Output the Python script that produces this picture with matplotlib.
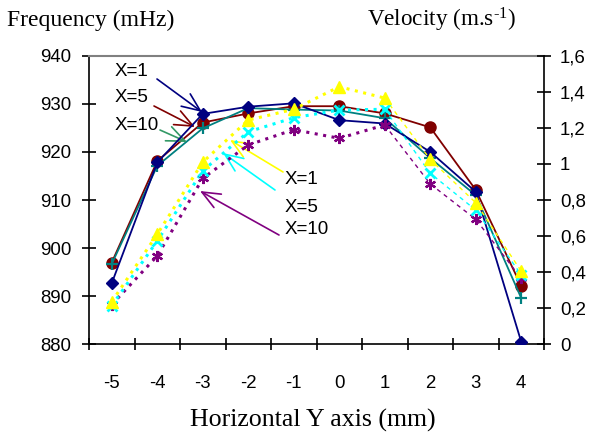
import matplotlib
matplotlib.use("Agg")
import matplotlib.pyplot as plt
import numpy as np

# ---- data ----
categories = ["-5", "-4", "-3", "-2", "-1", "0", "1", "2", "3", "4"]
freq_x1 = [892.7, 917.8, 927.9, 929.4, 930.1, 926.6, 925.9, 920.0, 911.7, 880.5]
freq_x5 = [897.0, 918.1, 926.1, 928.0, 929.5, 929.5, 928.0, 925.1, 912.1, 892.1]
freq_x10 = [896.7, 917.1, 924.9, 929.1, 928.8, 928.6, 927.0, 918.7, 911.0, 889.6]
vel_x1 = [0.236, 0.61, 1.01, 1.243, 1.303, 1.428, 1.365, 1.025, 0.785, 0.405]
vel_x5 = [0.214, 0.573, 0.962, 1.178, 1.256, 1.299, 1.303, 0.948, 0.744, 0.385]
vel_x10 = [0.22, 0.49, 0.92, 1.105, 1.19, 1.142, 1.216, 0.889, 0.693, 0.365]
left_ticks = [880, 890, 900, 910, 920, 930, 940]
right_ticks = [0, 0.2, 0.4, 0.6, 0.8, 1.0, 1.2, 1.4, 1.6]
right_labels = ["0", "0,2", "0,4", "0,6", "0,8", "1", "1,2", "1,4", "1,6"]

plt.rcParams["font.family"] = ["Liberation Sans", "DejaVu Sans"]
plt.rcParams["mathtext.fontset"] = "custom"
plt.rcParams["mathtext.rm"] = "Liberation Serif"
plt.rcParams["mathtext.it"] = "Liberation Serif:italic"

W, H = 592, 436
fig = plt.figure(figsize=(W / 100, H / 100), dpi=100)
ax = fig.add_axes([89 / W, 1 - 344.3 / H, (544 - 89) / W, (344.3 - 55.7) / H])
ax2 = ax.twinx()

x = np.arange(len(categories))

NAVY, DRED, TEAL = "#000080", "#800000", "#008080"
YEL, CYAN, PURP = "#FFFF00", "#00FFFF", "#800080"

ax.plot(x, freq_x5, color=DRED, lw=1.3, marker="o", ms=8, zorder=3)
ax.plot(x, freq_x10, color=TEAL, lw=1.3, marker="+", ms=9, mew=1.6, zorder=3)
ax.plot(x, freq_x1, color=NAVY, lw=1.3, marker="D", ms=6, zorder=4)

split = 6
for vals, col, mk, ms, mew in [(vel_x10, PURP, (6, 2, 0), 8, 1.6),
                               (vel_x5, CYAN, "x", 7, 2.0),
                               (vel_x1, YEL, "^", 9, 1.0)]:
    ax2.plot(x[:split + 1], vals[:split + 1], color=col, lw=2.2,
             linestyle=(0, (1, 1.8)), zorder=3)
    ax2.plot(x[split:], vals[split:], color=col, lw=1.0,
             linestyle=(0, (3, 3)), zorder=3)
    ax2.plot(x, vals, color=col, lw=0, marker=mk, ms=ms, mew=mew, zorder=4)

ax.set_xlim(-0.5, len(categories) - 0.5)
ax.set_ylim(880, 940)
ax2.set_ylim(0, 1.6)
ax.set_yticks(left_ticks)
ax.set_yticklabels([str(t) for t in left_ticks])
ax2.set_yticks(right_ticks)
ax2.set_yticklabels(right_labels)

ax.set_xticks(x)
ax.set_xticklabels(categories)
ax.set_xticks(np.arange(-0.5, len(categories), 1), minor=True)
ax.tick_params(axis="x", which="major", length=0, pad=22, labelsize=13.4)
ax.tick_params(axis="x", which="minor", direction="inout", length=9, width=1.2)
ax.tick_params(axis="y", direction="inout", length=10, width=1.2, pad=7.5, labelsize=13.4)
ax2.tick_params(axis="y", direction="inout", length=10, width=1.2, pad=6.5, labelsize=13.4)

for sp in ["left", "bottom"]:
    ax.spines[sp].set_linewidth(1.2)
    ax.spines[sp].set_color("black")
ax.spines["top"].set_color("#808080")
ax.spines["top"].set_linewidth(1.5)
ax.spines["right"].set_visible(False)
ax2.spines["right"].set_linewidth(1.2)
for sp in ["left", "bottom", "top"]:
    ax2.spines[sp].set_visible(False)

# ---- titles ----
fig.text(7 / W, 1 - 20 / H, "Frequency (mHz)", family="Liberation Serif",
         fontsize=17, va="center", ha="left")
fig.text(367 / W, 1 - 20 / H, r"Velocity (m.s$^{\mathregular{\text{-}1}}$)",
         family="Liberation Serif", fontsize=16.7, va="center", ha="left")
fig.text(313 / W, 1 - 420 / H, "Horizontal Y axis (mm)", family="Liberation Serif",
         fontsize=18.6, va="center", ha="center")

# ---- annotations (figure pixel coords, y from top) ----
def fp(px, py):
    return (px, H - py)

ann = [
    ("X=1", (115, 72), (157, 79), (202, 112), NAVY),
    ("X=5", (115, 98), (154, 106), (195, 127), DRED),
    ("X=10", (115, 125), (160, 130), (187, 142), "#339966"),
    ("X=1", (285, 180), (283, 172), (230, 140), YEL),
    ("X=5", (285, 207), (275, 190), (223, 153), CYAN),
    ("X=10", (285, 230), (279, 235), (200, 191), PURP),
]
for txt, tpos, start, tip, col in ann:
    fig.text(tpos[0] / W, 1 - tpos[1] / H, txt, fontsize=13.5, va="center", ha="left")
    ax.annotate("", xy=fp(*tip), xycoords="figure pixels",
                xytext=fp(*start), textcoords="figure pixels",
                arrowprops=dict(arrowstyle="->,head_length=1.3,head_width=0.55",
                                color=col, lw=1.2, shrinkA=0, shrinkB=0))

fig.savefig("out.png", dpi=100)
